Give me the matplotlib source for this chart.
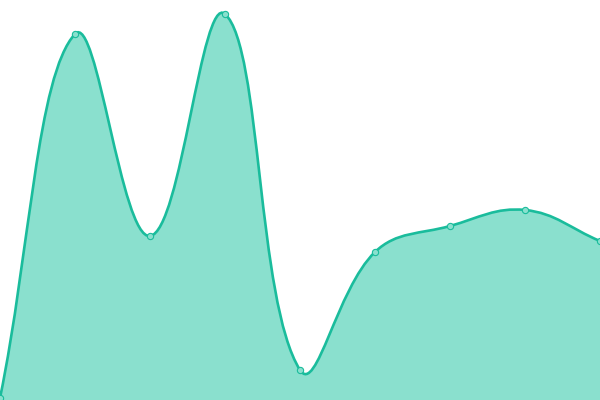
import numpy as np
import matplotlib
matplotlib.use('Agg')
import matplotlib.pyplot as plt
from matplotlib.path import Path
from matplotlib.patches import PathPatch

# valores
labels = ['0', '1', '2', '3', '4', '5', '6', '7', '8']
valores = [2, 366, 164, 386, 30, 148, 174, 190, 159]

linea = '#1abc9c'
relleno = '#8ae0ce'
tension = 0.4

fig = plt.figure(figsize=(6, 4), dpi=100)
ax = fig.add_axes([0, 0, 1, 1])
ax.set_xlim(0, len(valores) - 1)
ax.set_ylim(0, 400)
ax.axis('off')

# curva spline en pixeles, como la de Chart.js
pts = ax.transData.transform(np.column_stack([np.arange(len(valores)), valores]))
n = len(pts)
cp_prev = []
cp_next = []
for i in range(n):
    cur = pts[i]
    prev = pts[i - 1] if i > 0 else cur
    nxt = pts[i + 1] if i < n - 1 else cur
    d01 = np.hypot(*(cur - prev))
    d12 = np.hypot(*(nxt - cur))
    tot = d01 + d12
    s01 = d01 / tot if tot else 0
    s12 = d12 / tot if tot else 0
    cp_prev.append(cur - tension * s01 * (nxt - prev))
    cp_next.append(cur + tension * s12 * (nxt - prev))

verts = [pts[0]]
codes = [Path.MOVETO]
for i in range(n - 1):
    verts += [cp_next[i], cp_prev[i + 1], pts[i + 1]]
    codes += [Path.CURVE4] * 3

inv = ax.transData.inverted()
verts_d = inv.transform(np.array(verts))

curva = Path(verts_d, codes)
area_verts = list(verts_d) + [(n - 1, 0), (0, 0), verts_d[0]]
area_codes = codes + [Path.LINETO, Path.LINETO, Path.CLOSEPOLY]
ax.add_patch(PathPatch(Path(area_verts, area_codes), facecolor=relleno, edgecolor='none'))
ax.add_patch(PathPatch(curva, facecolor='none', edgecolor=linea, linewidth=1.9))

ax.plot(range(n), valores, 'o', markersize=4.5, markerfacecolor=relleno,
        markeredgecolor=linea, markeredgewidth=0.8, zorder=5)

plt.savefig('out.png', dpi=100)
